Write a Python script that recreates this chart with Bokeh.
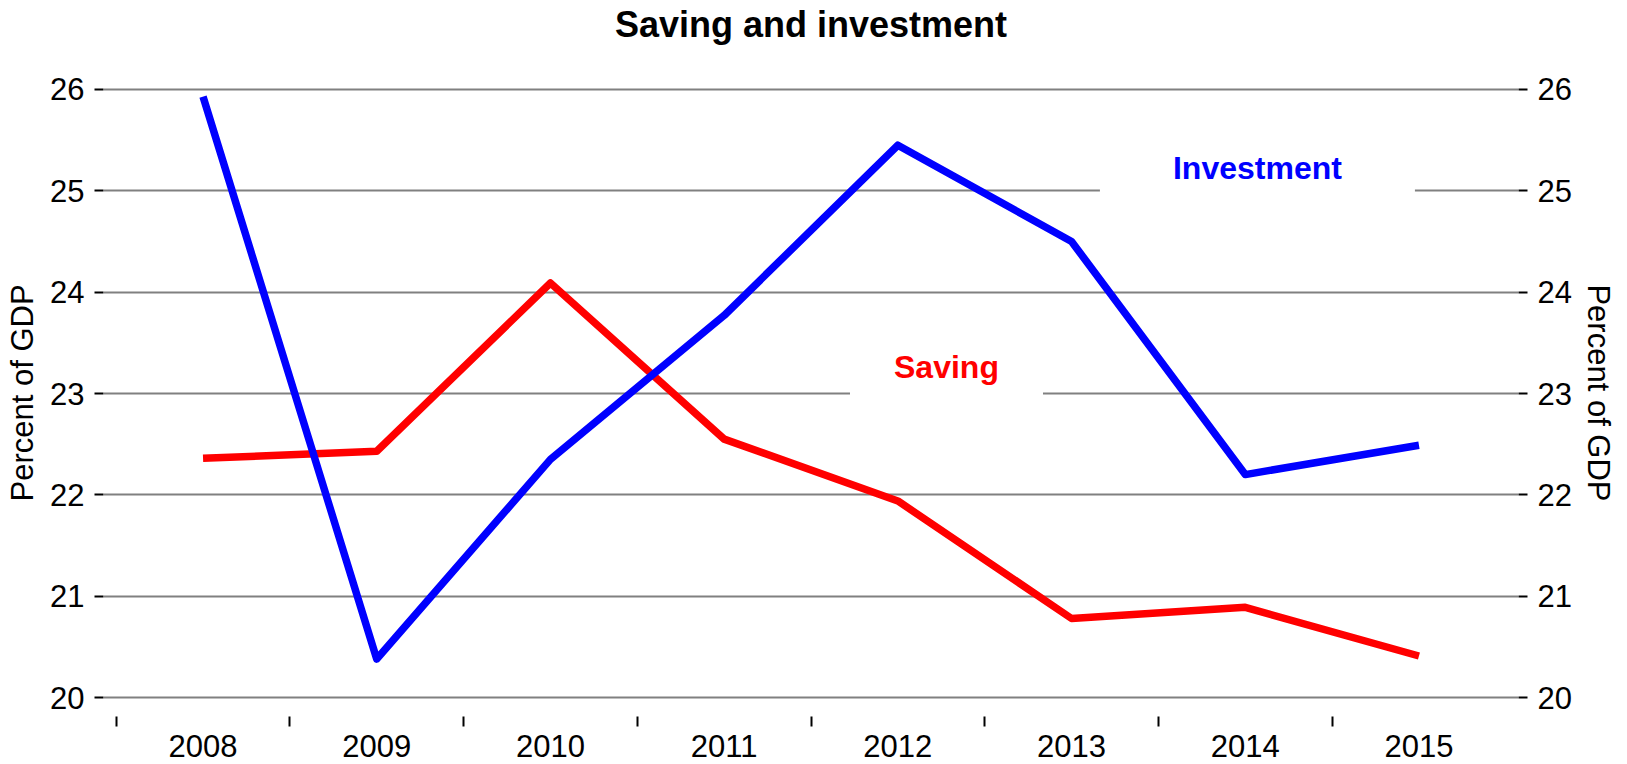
from bokeh.plotting import figure
from bokeh.models import Range1d, FixedTicker, LinearAxis, ColumnDataSource
from bokeh.core.properties import value
from bokeh.embed import file_html
from bokeh.resources import INLINE

# ---- data ----
years = [2008, 2009, 2010, 2011, 2012, 2013, 2014, 2015]
investment = [25.93, 20.38, 22.35, 23.77, 25.45, 24.50, 22.20, 22.49]
saving = [22.36, 22.43, 24.09, 22.55, 21.94, 20.78, 20.89, 20.41]
y_ticks = [20, 21, 22, 23, 24, 25, 26]
year_bounds = [2007.5, 2008.5, 2009.5, 2010.5, 2011.5, 2012.5, 2013.5, 2014.5]

title_text = "Saving and investment"
label_texts = ["Investment", "Saving"]
label_colors = ["#0000FF", "#FF0000"]
label_x = [2014.07, 2012.28]
label_y = [25.23, 23.26]
box_w = [315, 193]

FONT = "Liberation Sans"

p = figure(width=1627, height=764, output_backend="svg", toolbar_location=None,
           x_range=Range1d(2007.427, 2015.573), y_range=Range1d(19.813, 26.197),
           min_border_left=103, min_border_right=109, min_border_top=68,
           min_border_bottom=48)
p.outline_line_color = None
p.background_fill_color = "white"
p.border_fill_color = "white"

# bottom x axis (year labels, ticks between years)
xa = p.below[0]
xa.ticker = FixedTicker(ticks=years, minor_ticks=year_bounds)
xa.axis_line_color = None
xa.major_tick_out = 0
xa.major_tick_in = 0
xa.minor_tick_out = 10
xa.minor_tick_in = 0
xa.minor_tick_line_color = "black"
xa.minor_tick_line_width = 2
xa.major_label_text_font = FONT
xa.major_label_text_font_size = "31px"
xa.major_label_text_color = "black"
xa.major_label_standoff = 8

# title: carried by a tick-less axis above the frame
ta = LinearAxis(ticker=FixedTicker(ticks=[]))
ta.axis_line_color = None
ta.major_tick_out = 0
ta.major_tick_in = 0
ta.minor_tick_out = 0
ta.minor_tick_in = 0
ta.major_label_text_font_size = "0px"
ta.major_label_standoff = 0
ta.axis_label = title_text
ta.axis_label_text_font = FONT
ta.axis_label_text_font_size = "36px"
ta.axis_label_text_font_style = "bold"
ta.axis_label_text_color = "black"
ta.axis_label_standoff = 25
p.add_layout(ta, "above")

# grid
p.xgrid.visible = False
p.ygrid.ticker = FixedTicker(ticks=y_ticks)
p.ygrid.grid_line_color = "#808080"
p.ygrid.grid_line_width = 2

def style_y(ax, standoff, label_standoff):
    ax.ticker = FixedTicker(ticks=y_ticks)
    ax.axis_line_color = None
    ax.major_tick_out = 9
    ax.major_tick_in = 0
    ax.major_tick_line_color = "black"
    ax.major_tick_line_width = 2
    ax.minor_tick_out = 0
    ax.minor_tick_in = 0
    ax.major_label_text_font = FONT
    ax.major_label_text_font_size = "31px"
    ax.major_label_text_color = "black"
    ax.major_label_standoff = standoff
    ax.axis_label = "Percent of GDP"
    ax.axis_label_text_font = FONT
    ax.axis_label_text_font_size = "31px"
    ax.axis_label_text_font_style = "normal"
    ax.axis_label_text_color = "black"
    ax.axis_label_standoff = label_standoff

style_y(p.left[0], 10, 7)
ra = LinearAxis()
style_y(ra, 10, 6)
p.add_layout(ra, "right")

# label boxes (white, interrupting grid lines)
lab = ColumnDataSource(dict(x=label_x, y=label_y, text=label_texts,
                            color=label_colors, w=box_w))
p.rect(x="x", y="y", width="w", height=58, width_units="screen",
       height_units="screen", source=lab, fill_color="white", line_color=None)

# lines
p.line(years, saving, line_color="#FF0000", line_width=7.5,
       line_join="round", line_cap="butt")
p.line(years, investment, line_color="#0000FF", line_width=7.5,
       line_join="round", line_cap="butt")

p.text(x="x", y="y", text="text", source=lab, text_color="color",
       text_font=value(FONT), text_font_size="32px", text_font_style="bold",
       text_align="center", text_baseline="middle")

open("out.html", "w").write(file_html(p, INLINE))
